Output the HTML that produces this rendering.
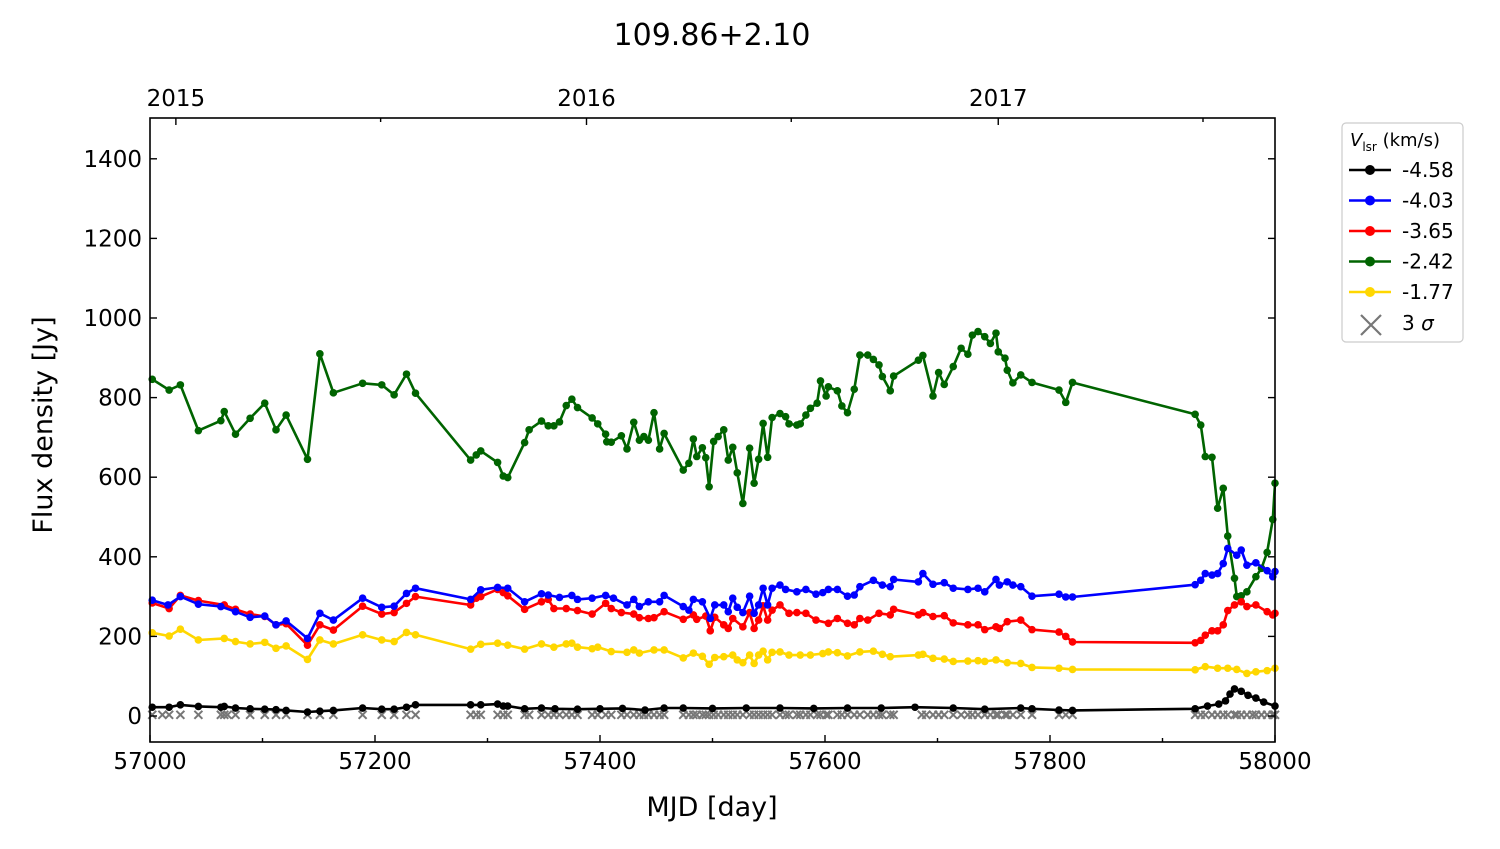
<!DOCTYPE html>
<html><head><meta charset="utf-8"><style>
body{margin:0;background:#fff;}
svg text{font-family:"DejaVu Sans","Liberation Sans",sans-serif;fill:#000;}
</style></head><body>
<svg id="chart" width="1500" height="844" viewBox="0 0 1500 844" xmlns="http://www.w3.org/2000/svg">
<text x="712" y="45" font-size="30" text-anchor="middle">109.86+2.10</text>
<g id="marks"></g>
<rect x="150" y="118" width="1125" height="624" fill="none" stroke="#000" stroke-width="1.6"/>
<g id="axes"></g>
<text x="712" y="816" font-size="27" text-anchor="middle">MJD [day]</text>
<text transform="translate(52,425) rotate(-90)" font-size="27" text-anchor="middle">Flux density [Jy]</text>
<g>
<rect x="1342" y="123" width="121" height="219" rx="4" fill="#fff" stroke="#ccc" stroke-width="1.2"/>
<text x="1350" y="146" font-size="18"><tspan font-style="italic">V</tspan><tspan font-size="12" dy="5">lsr</tspan><tspan dy="-5"> (km/s)</tspan></text>
<g id="legend-items"></g>
</g>
</svg>
<script>
const blackX=[2,17,27,43,63,66,76,89,102,112,121,140,151,163,189,206,217,228,236,285,294,309,314,318,333,348,360,380,400,420,440,457,474,500,530,560,590,620,650,680,714,742,774,784,808,820,929,940,950,956,960,964,970,976,983,990,1000];
const blackY=[22,22,28,24,22,24,20,18,17,16,14,10,12,14,20,17,17,22,28,28,28,30,25,25,18,20,18,17,18,19,15,20,20,19,20,20,19,20,20,22,20,17,20,18,15,14,18,25,30,38,55,68,62,52,45,35,25];
const blueX=[2,16,27,43,63,76,89,102,112,121,140,151,163,189,206,217,228,236,285,294,309,318,333,348,354,364,375,380,393,405,412,424,430,435,443,453,457,474,479,483,491,498,502,510,514,518,522,527,533,537,541,545,549,553,560,565,575,583,592,598,603,611,620,626,631,643,651,658,661,683,687,696,706,714,727,736,742,752,755,762,767,774,784,808,814,820,929,934,938,944,949,954,958,966,970,975,983,993,998,1000];
const blueY=[291,279,300,281,275,262,248,251,229,239,195,258,241,296,273,276,308,321,293,317,323,321,287,307,304,298,303,293,296,303,296,279,293,275,287,287,303,275,266,293,287,245,279,279,262,296,273,260,301,258,279,321,279,321,329,318,312,318,306,310,318,318,301,304,325,341,329,325,343,337,358,331,335,321,318,321,312,343,329,337,329,325,301,306,299,299,330,341,358,354,358,383,421,404,417,379,385,365,350,363];
const redX=[2,17,27,43,66,76,89,102,112,121,140,151,163,189,206,217,228,236,285,290,294,309,314,318,333,348,354,359,370,380,393,405,410,419,430,435,443,448,457,474,483,486,494,498,502,510,514,518,527,533,537,541,545,549,553,560,568,575,583,592,603,611,620,626,631,638,648,658,661,683,687,696,706,714,727,736,742,752,755,762,774,784,808,814,820,929,934,938,944,949,954,958,964,970,975,983,993,998,1000];
const redY=[284,270,303,290,279,268,256,250,229,232,178,229,216,276,256,260,283,300,279,296,300,318,310,302,268,287,293,270,270,265,256,283,270,260,256,247,245,247,262,243,254,243,251,214,248,229,220,245,224,260,220,241,277,241,266,279,258,260,258,241,233,245,233,229,245,241,258,254,268,254,260,250,252,234,229,229,217,224,220,237,241,217,211,200,186,184,190,203,214,214,229,265,279,287,275,279,262,254,258];
const greenX=[2,17,27,43,63,66,76,89,102,112,121,140,151,163,189,206,217,228,236,285,290,294,309,314,318,333,337,348,354,359,364,370,375,380,393,398,405,406,410,419,424,430,435,439,443,448,453,457,474,479,483,486,491,494,497,501,505,510,514,518,522,527,533,537,541,545,549,553,560,565,568,575,578,583,587,593,596,601,603,611,615,620,626,631,638,643,648,651,658,661,683,687,696,701,706,714,721,727,731,736,742,747,752,754,760,762,767,774,784,808,814,820,929,934,938,944,949,954,958,964,966,970,975,983,988,993,998,1000];
const greenY=[846,819,832,717,742,765,708,748,786,719,756,645,910,812,836,832,807,859,811,643,656,666,637,603,599,687,719,741,729,729,739,780,796,775,749,734,708,689,688,704,671,738,693,702,693,762,671,710,618,635,696,652,674,649,576,690,702,719,643,675,611,534,673,585,645,735,650,750,760,752,734,731,734,756,773,786,842,804,827,817,779,762,821,907,907,896,882,853,817,854,894,906,804,863,833,878,924,909,957,966,953,936,962,915,899,869,837,857,838,819,788,838,758,731,652,650,522,572,452,346,300,302,312,350,371,411,494,585];
const yellowX=[2,17,27,43,66,76,89,102,112,121,140,151,163,189,206,217,228,236,285,294,309,318,333,348,359,370,375,380,393,398,410,424,430,435,448,457,474,483,491,497,502,510,518,522,527,533,537,541,545,549,553,560,568,578,587,598,603,611,620,631,643,651,658,683,687,696,706,714,727,736,742,752,762,774,784,808,820,929,938,949,958,966,975,983,993,1000];
const yellowY=[209,201,218,191,195,187,181,185,170,176,142,191,181,204,191,187,210,204,168,180,183,178,168,181,173,181,183,173,169,173,162,160,166,158,166,166,146,158,150,130,147,149,153,141,134,153,132,153,163,141,160,161,153,153,153,157,161,159,151,161,163,155,149,153,155,145,143,137,138,139,137,141,134,132,122,120,117,116,124,120,120,117,107,111,114,120];
const sigmaX=[2,11,17,27,43,63,66,69,76,89,102,112,121,140,151,163,189,206,217,228,236,285,290,294,309,314,318,333,337,348,354,359,364,370,375,380,393,398,405,410,419,424,430,435,439,443,448,453,457,474,479,483,486,491,494,497,501,505,510,514,518,522,527,533,537,541,545,549,553,560,565,568,575,578,583,587,593,596,601,603,611,615,620,626,631,638,643,648,651,658,661,686,690,696,701,706,714,721,727,731,736,742,747,752,754,760,762,767,774,784,808,814,820,929,934,938,944,949,954,958,964,966,970,975,980,983,988,993,998,1000];
const sigmaY=sigmaX.map(()=>3);
const yTicks=[0,200,400,600,800,1000,1200,1400];
const xTicks=[57000,57200,57400,57600,57800,58000];
const yearLabels=["2015","2016","2017"];
const yearMJD=[57023,57388,57754];

const NS="http://www.w3.org/2000/svg";
const X0=150,X1=1275,Y0=118,Y1=742;
const xs=m=>X0+(m-57000)/1000*(X1-X0);
const ys=v=>716-v*0.398;
function mk(tag,attrs,parent){const e=document.createElementNS(NS,tag);for(const k in attrs)e.setAttribute(k,attrs[k]);parent.appendChild(e);return e;}
const marks=document.getElementById('marks');
const axes=document.getElementById('axes');

const sg=mk('g',{},marks);


sigmaX.forEach((d,i)=>{const x=xs(57000+d),y=ys(sigmaY[i]);
 const p=mk('path',{d:`M${x-4} ${y-4}L${x+4} ${y+4}M${x-4} ${y+4}L${x+4} ${y-4}`,stroke:'#777','stroke-width':2},sg);
 
 
});

const series=[
 {n:'-4.58',c:'#000',x:blackX,y:blackY,name:'series-minus-4-58'},
 {n:'-4.03',c:'#0000ff',x:blueX,y:blueY,name:'series-minus-4-03'},
 {n:'-3.65',c:'#ff0000',x:redX,y:redY,name:'series-minus-3-65'},
 {n:'-2.42',c:'#006400',x:greenX,y:greenY,name:'series-minus-2-42'},
 {n:'-1.77',c:'#ffd700',x:yellowX,y:yellowY,name:'series-minus-1-77'}];
[4,3,2,1,0].forEach(si=>{const s=series[si];
 const g=mk('g',{},marks);
 
 
 const pts=s.x.map((d,i)=>xs(57000+d).toFixed(1)+','+ys(s.y[i]).toFixed(1)).join(' ');
 const l=mk('polyline',{points:pts,fill:'none',stroke:s.c,'stroke-width':2.6,'stroke-linejoin':'round'},g);
 
 
 s.x.forEach((d,i)=>{const c=mk('circle',{cx:xs(57000+d),cy:ys(s.y[i]),r:3.8,fill:s.c},g);
  
  });
});

yTicks.forEach(v=>{const y=ys(v);
 mk('line',{x1:X0,x2:X0+7,y1:y,y2:y,stroke:'#000','stroke-width':1.4},axes);
 mk('line',{x1:X1,x2:X1-7,y1:y,y2:y,stroke:'#000','stroke-width':1.4},axes);
 const t=mk('text',{x:X0-8,y:y+8,'font-size':23,'text-anchor':'end'},axes);t.textContent=v;
 
 
});
for(let m=57000;m<=58000;m+=100){const x=xs(m),len=(m%200===0)?7:4;
 mk('line',{x1:x,x2:x,y1:Y1,y2:Y1-len,stroke:'#000','stroke-width':1.4},axes);}
xTicks.forEach(m=>{const t=mk('text',{x:xs(m),y:Y1+27,'font-size':23,'text-anchor':'middle'},axes);t.textContent=m;
 
 });
yearMJD.forEach((m,i)=>{const x=xs(m);
 mk('line',{x1:x,x2:x,y1:Y0,y2:Y0+7,stroke:'#000','stroke-width':1.4},axes);
 const t=mk('text',{x:x,y:Y0-12,'font-size':23,'text-anchor':'middle'},axes);t.textContent=yearLabels[i];
 
 
 const h=xs(m+182);if(h<X1)mk('line',{x1:h,x2:h,y1:Y0,y2:Y0+4,stroke:'#000','stroke-width':1.4},axes);
});

const li=document.getElementById('legend-items');
series.forEach((s,i)=>{const y=170+i*30.5;
 const g=mk('g',{},li);
 
 
 mk('line',{x1:1349,x2:1391,y1:y,y2:y,stroke:s.c,'stroke-width':2.6},g);
 mk('circle',{cx:1370,cy:y,r:5,fill:s.c},g);
 const t=mk('text',{x:1402,y:y+7,'font-size':20},g);t.textContent=s.n;});
const lg=mk('g',{},li);


mk('path',{d:'M1361 315L1381 335M1361 335L1381 315',stroke:'#777','stroke-width':2.2},lg);
const st=mk('text',{x:1402,y:330,'font-size':20},lg);st.innerHTML='3 <tspan font-style="italic">σ</tspan>';
</script>
</body></html>
